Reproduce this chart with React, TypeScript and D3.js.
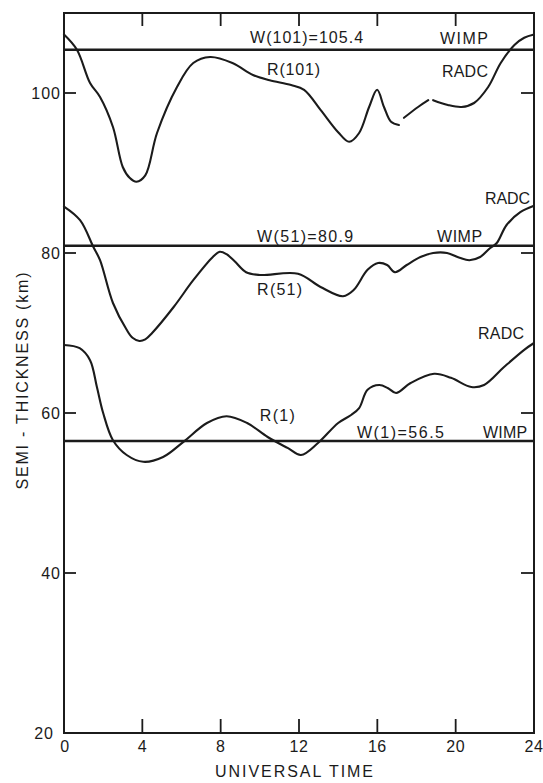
import React from 'react';
import * as d3 from 'd3';

const WIDTH = 543;
const HEIGHT = 783;

// Universal time (h) and semi-thickness (km) tick values
const timeTicks = [0, 4, 8, 12, 16, 20, 24];
const thicknessTicks = [20, 40, 60, 80, 100];

// WIMP model semi-thickness for each sunspot number
const wimpSunspot = [101, 51, 1];
const wimpThickness = [105.4, 80.9, 56.5];

type Pt = [number, number | null];

// RADC semi-thickness curves: [UT hour, km]; null marks a break in the trace
const radc101: Pt[] = [
  [0, 107.3], [0.66, 105.4], [1.33, 101.25], [1.84, 99.5], [2.5, 95.75], [3.0, 90.75],
  [3.35, 89.4], [3.7, 88.9], [4.15, 89.7], [4.75, 95], [5.77, 100.75], [6.6, 103.75],
  [7.46, 104.5], [8.6, 103.75],
  [9.65, 102.25], [10.5, 101.6], [11.6, 101], [12.26, 100.4], [13.1, 97.9], [14, 95.1],
  [14.56, 93.9], [15.07, 95], [15.58, 98.25], [15.99, 100.4], [16.34, 98.25], [16.7, 96.4],
  [17.1, 96], [17.2, null],
  [17.36, 96.9], [18.08, 98.25], [18.6, 99.1], [18.7, null],
  [18.85, 99.1], [19.6, 98.5], [20.3, 98.25], [20.94, 98.75], [21.66, 100.75], [22.3, 103.75],
  [23, 106], [23.5, 106.9], [24, 107.3],
];

const radc51: Pt[] = [
  [0, 85.8], [0.82, 84.1], [1.5, 80.75], [1.84, 79.1], [2.5, 73.75], [3.2, 70.4],
  [3.5, 69.4], [3.85, 69], [4.15, 69.2], [4.5, 70], [5.6, 73.25], [6.6, 76.6],
  [7.6, 79.5], [7.95, 80.15], [8.3, 79.85], [8.7, 79.0],
  [9.3, 77.6], [10, 77.25], [11.95, 77.4], [13.1, 75.75], [14.25, 74.6], [14.8, 75.4],
  [15.5, 77.9], [16.04, 78.75], [16.5, 78.5], [16.9, 77.6], [17.5, 78.5], [18.2, 79.5],
  [18.85, 80], [19.56, 80], [20.2, 79.4], [20.7, 79.1], [21.25, 79.5], [21.75, 80.6],
  [22.1, 81.25], [22.6, 83.5], [23.3, 85.1], [24, 85.9],
];

const radc1: Pt[] = [
  [0, 68.5], [0.8, 68.1], [1.33, 66.6], [1.68, 63.25], [2, 60], [2.5, 56.6], [3.2, 54.75],
  [4.05, 53.9], [5.06, 54.5], [6.1, 56.4], [7.3, 58.75], [8.3, 59.6], [9.35, 58.75],
  [10.4, 57], [11.44, 55.6], [12.1, 54.75], [12.97, 56.25], [14, 58.75], [14.66, 59.75],
  [15.07, 60.6], [15.5, 62.9], [16.1, 63.5], [16.55, 63.1], [16.96, 62.5], [17.7, 63.75],
  [18.9, 64.9], [19.76, 64.4], [20.8, 63.25], [21.45, 63.5], [22.47, 65.75], [23.5, 67.9],
  [24, 68.75],
];

const FONT = "'Liberation Sans', Arial, Helvetica, sans-serif";
const INK = '#1b1b1b';

export default function App() {
  const x = d3.scaleLinear().domain([0, 24]).range([64, 534]);
  const y = d3.scaleLinear().domain([20, 110]).range([733, 13]);

  const line = d3
    .line<Pt>()
    .defined((d) => d[1] !== null)
    .x((d) => x(d[0]))
    .y((d) => y(d[1] as number))
    .curve(d3.curveCatmullRom.alpha(0.5));

  const [x0, x1] = x.range();
  const [yb, yt] = y.range();

  const interiorTime = timeTicks.filter((t) => t !== 0 && t !== 24);
  const interiorThick = thicknessTicks.filter((v) => v !== 20);

  // Annotation labels anchored in data units: [text, hour, km, width]
  const labels: [string, number, number, number][] = [
    [`W(${wimpSunspot[0]})=${wimpThickness[0]}`, 9.5, 106.2, 113],
    ['WIMP', 19.2, 106.1, 48],
    [`R(${wimpSunspot[0]})`, 10.37, 102.25, 53],
    ['RADC', 19.3, 102, 46],
    ['RADC', 21.5, 86.1, 45],
    [`W(${wimpSunspot[1]})=${wimpThickness[1]}`, 9.86, 81.4, 96],
    ['WIMP', 19.05, 81.4, 45],
    [`R(${wimpSunspot[1]})`, 9.86, 74.75, 45],
    ['RADC', 21.14, 69.25, 46],
    [`R(${wimpSunspot[2]})`, 10.0, 59, 35],
    [`W(${wimpSunspot[2]})=${wimpThickness[2]}`, 14.96, 56.9, 87],
    ['WIMP', 21.4, 56.9, 44],
  ];

  return (
    <svg
      width={WIDTH}
      height={HEIGHT}
      viewBox={`0 0 ${WIDTH} ${HEIGHT}`}
      style={{ position: 'absolute', left: 0, top: 0, background: '#fff' }}
      fontFamily={FONT}
    >
      <rect x={0} y={0} width={WIDTH} height={HEIGHT} fill="#fff" />

      {/* frame */}
      <rect x={x0} y={yt} width={x1 - x0} height={yb - yt} fill="none" stroke={INK} strokeWidth={2} />

      {/* inward ticks */}
      {interiorTime.map((t) => (
        <g key={`tx${t}`} stroke={INK} strokeWidth={1.8}>
          <line x1={x(t)} x2={x(t)} y1={yb} y2={yb - 14} />
          <line x1={x(t)} x2={x(t)} y1={yt} y2={yt + 13} />
        </g>
      ))}
      {interiorThick.map((v) => (
        <g key={`ty${v}`} stroke={INK} strokeWidth={1.8}>
          <line x1={x0} x2={x0 + 12} y1={y(v)} y2={y(v)} />
          <line x1={x1 - 13} x2={x1} y1={y(v)} y2={y(v)} />
        </g>
      ))}

      {/* tick labels */}
      {timeTicks.map((t) => (
        <text key={`lx${t}`} x={x(t) + (t === 0 ? 1 : 0)} y={752} textAnchor="middle" fontSize={16} letterSpacing={0.5} fill={INK}>
          {t}
        </text>
      ))}
      {thicknessTicks.map((v) => (
        <text
          key={`ly${v}`}
          x={v === 20 ? 54 : 61}
          y={y(v) + 6}
          textAnchor="end"
          fontSize={16}
          letterSpacing={1}
          fill={INK}
        >
          {v}
        </text>
      ))}

      {/* axis titles */}
      <text x={294} y={777} textAnchor="middle" fontSize={16} textLength={158} lengthAdjust="spacing" fill={INK}>
        UNIVERSAL TIME
      </text>
      <text
        transform={`translate(28, 381) rotate(-90)`}
        textAnchor="middle"
        fontSize={16}
        textLength={217}
        lengthAdjust="spacing"
        fill={INK}
      >
        SEMI - THICKNESS (km)
      </text>

      {/* WIMP reference levels */}
      {wimpThickness.map((v) => (
        <line key={`w${v}`} x1={x0} x2={x1} y1={y(v)} y2={y(v)} stroke={INK} strokeWidth={2.4} />
      ))}

      {/* RADC curves */}
      {[radc101, radc51, radc1].map((s, i) => (
        <path key={`r${i}`} d={line(s) ?? ''} fill="none" stroke={INK} strokeWidth={2.1} strokeLinejoin="round" strokeLinecap="round" />
      ))}

      {/* annotations */}
      {labels.map(([txt, t, v, w], i) => (
        <text key={`a${i}`} x={x(t)} y={y(v)} fontSize={16} textLength={w} lengthAdjust="spacing" fill={INK}>
          {txt}
        </text>
      ))}
    </svg>
  );
}
